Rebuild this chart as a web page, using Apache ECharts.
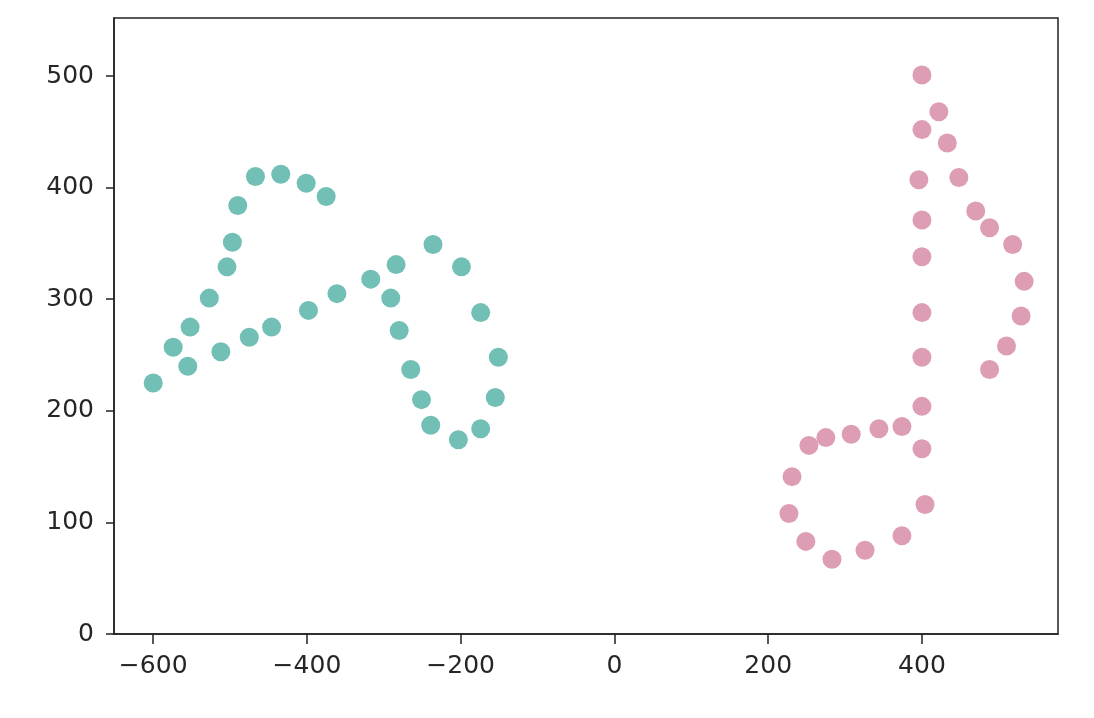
<!DOCTYPE html>
<html>
<head>
<meta charset="utf-8">
<script src="https://cdn.jsdelivr.net/npm/echarts@6/dist/echarts.min.js"></script>
<style>
html,body{margin:0;padding:0;background:#fff;}
#chart{width:1094px;height:718px;}
</style>
</head>
<body>
<div id="chart"></div>
<script>
const tealX = [-600,-574,-555,-552,-527,-512,-504,-497,-490,-475,-467,-446,-434,-401,-398,-375,-361,-317,-291,-284,-280,-265,-251,-239,-236,-203,-199,-174,-174,-155,-151];
const tealY = [225,257,240,275,301,253,329,351,384,266,410,275,412,404,290,392,305,318,301,331,272,237,210,187,349,174,329,184,288,212,248];
const pinkX = [400,422,400,433,396,448,400,470,488,518,400,533,400,529,510,488,400,400,374,344,308,275,253,400,231,227,404,249,374,326,283];
const pinkY = [501,468,452,440,407,409,371,379,364,349,338,316,288,285,258,237,248,204,186,184,179,176,169,166,141,108,116,83,88,75,67];
const xTicks = [-600,-400,-200,0,200,400];
const yTicks = [0,100,200,300,400,500];

const toPairs = (xs, ys) => xs.map((x, i) => [x, ys[i]]);
const fmt = v => String(v).replace('-', '\u2212');
const axisColor = '#222';
const labelStyle = {fontFamily: 'DejaVu Sans', fontSize: 25, color: '#262626'};

const chart = echarts.init(document.getElementById('chart'), null, {renderer: 'canvas'});
chart.setOption({
  animation: false,
  backgroundColor: '#fff',
  grid: {left: 114, right: 36, top: 18, bottom: 84, show: true, borderColor: axisColor, borderWidth: 1.5, backgroundColor: 'transparent'},
  xAxis: {
    type: 'value', min: -651, max: 577,
    splitLine: {show: false},
    axisLine: {show: true, onZero: false, lineStyle: {color: axisColor, width: 1.5}},
    axisTick: {show: true, customValues: xTicks, length: 10, lineStyle: {color: axisColor, width: 1.5}},
    axisLabel: Object.assign({customValues: xTicks, margin: 20, formatter: fmt}, labelStyle)
  },
  yAxis: {
    type: 'value', min: 0, max: 552,
    splitLine: {show: false},
    axisLine: {show: true, onZero: false, lineStyle: {color: axisColor, width: 1.5}},
    axisTick: {show: true, customValues: yTicks, length: 8, lineStyle: {color: axisColor, width: 1.5}},
    axisLabel: Object.assign({customValues: yTicks, margin: 20, formatter: fmt}, labelStyle)
  },
  series: [
    {type: 'scatter', data: toPairs(tealX, tealY), symbolSize: 19, itemStyle: {color: '#72bfb5', opacity: 1}},
    {type: 'scatter', data: toPairs(pinkX, pinkY), symbolSize: 19, itemStyle: {color: '#dd9db4', opacity: 1}}
  ]
});
</script>
</body>
</html>
